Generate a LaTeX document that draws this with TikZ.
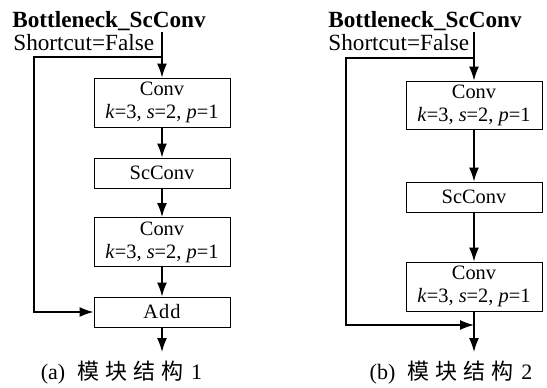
\documentclass[tikz,border=0pt]{standalone}
\usepackage{fontspec}
\setmainfont{Liberation Serif}
\newfontfamily\cjk{Noto Sans CJK SC}
\usetikzlibrary{arrows.meta}

\tikzset{
	block/.style={draw, line width=0.5pt, minimum width=68pt, inner sep=0pt, align=center, font=\fontsize{10.2}{11.5}\selectfont},
	arr/.style={-{Latex[length=7pt,width=5pt]}, line width=0.7pt},
	head/.style={anchor=base west, inner sep=0pt, font=\fontsize{11.6}{13}\selectfont},
	subcap/.style={inner sep=0pt, font=\fontsize{11}{12}\selectfont}
}
\newcommand{\convtext}{Conv\\\textit{k}=3, \textit{s}=2, \textit{p}=1}

\begin{document}
\begin{tikzpicture}[x=0.5pt, y=-0.5pt]
	\useasboundingbox (0,0) rectangle (547,387);

	% (a) shortcut goes into Add
	\node[head] (titleA) at (12,27) {\textbf{Bottleneck\_ScConv}};
	\node[head] (shortA) at (13,50) {Shortcut=False};
	\coordinate (topA) at (162,32);
	\coordinate (forkA) at (162,57);
	\coordinate (cornerA) at (34,57);
	\node[block, minimum height=24.5pt] (conv1A) at (162,102.5) {\convtext};
	\node[block, minimum height=15pt] (scA) at (162,173) {ScConv};
	\node[block, minimum height=24.5pt] (conv2A) at (162,242) {\convtext};
	\node[block, minimum height=15pt] (addA) at (162,312) {A\kern0.5pt d\kern0.5pt d};
	\coordinate (outA) at (162,352);

	\draw[arr] (topA) -- (conv1A);
	\draw[arr] (conv1A) -- (scA);
	\draw[arr] (scA) -- (conv2A);
	\draw[arr] (conv2A) -- (addA);
	\draw[arr] (addA) -- (outA);
	\draw[arr] (forkA) -- (cornerA) |- (addA.west);

	\node[subcap] (capA) at (121.5,373) {(a)\hspace{6pt}{\cjk 模\hspace{3pt}块\hspace{3pt}结\hspace{3pt}构}\hspace{4pt}1};

	% (b) shortcut joins after the last Conv
	\node[head] (titleB) at (328,27) {\textbf{Bottleneck\_ScConv}};
	\node[head] (shortB) at (328,50) {Shortcut=False};
	\coordinate (topB) at (474,32);
	\coordinate (forkB) at (474,58);
	\coordinate (cornerB) at (346,58);
	\node[block, minimum height=24pt] (conv1B) at (474,105) {\convtext};
	\node[block, minimum height=15pt] (scB) at (474,197) {ScConv};
	\node[block, minimum height=24.5pt] (conv2B) at (474,286.5) {\convtext};
	\coordinate (joinB) at (474,325);
	\coordinate (outB) at (474,352);

	\draw[arr] (topB) -- (conv1B);
	\draw[arr] (conv1B) -- (scB);
	\draw[arr] (scB) -- (conv2B);
	\draw[arr] (conv2B) -- (outB);
	\draw[arr] (forkB) -- (cornerB) |- (joinB);

	\node[subcap] (capB) at (451,373) {(b)\hspace{6pt}{\cjk 模\hspace{3pt}块\hspace{3pt}结\hspace{3pt}构}\hspace{4pt}2};
\end{tikzpicture}
\end{document}
